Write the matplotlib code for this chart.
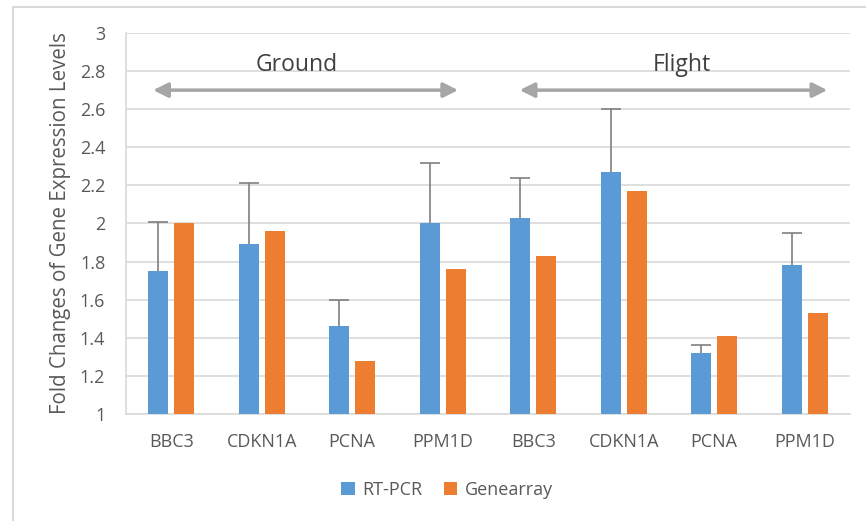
import matplotlib
matplotlib.use('Agg')
import matplotlib.pyplot as plt
import numpy as np
from matplotlib.patches import Rectangle

# data
genes = ['BBC3', 'CDKN1A', 'PCNA', 'PPM1D', 'BBC3', 'CDKN1A', 'PCNA', 'PPM1D']
rt_pcr = [1.75, 1.89, 1.46, 2.00, 2.03, 2.27, 1.32, 1.78]
genearray = [2.00, 1.96, 1.28, 1.76, 1.83, 2.17, 1.41, 1.53]
rt_pcr_err = [0.26, 0.32, 0.14, 0.32, 0.21, 0.33, 0.04, 0.17]
groups = ['Ground', 'Flight']
yticks = [1, 1.2, 1.4, 1.6, 1.8, 2, 2.2, 2.4, 2.6, 2.8, 3]
ytick_labels = ['1', '1.2', '1.4', '1.6', '1.8', '2', '2.2', '2.4', '2.6', '2.8', '3']

plt.rcParams['font.family'] = ['Open Sans', 'DejaVu Sans']
text_color = '#595959'
blue = '#5B9BD5'
orange = '#ED7D31'
grid_color = '#D9D9D9'

# create figure
fig = plt.figure(figsize=(8.66, 5.21), dpi=100)
ax = fig.add_axes([0.1455, 0.2054, 0.836, 0.7313])

# outer chart border (only left and top visible)
fig.patches.append(Rectangle((13 / 866, -0.1), 1.2, 1 - 7 / 521 + 0.1,
                             transform=fig.transFigure, fill=False,
                             edgecolor='#D9D9D9', linewidth=1.5))

x = np.arange(len(genes))
width = 0.22
offset = 0.145

ax.bar(x - offset, [v - 1 for v in rt_pcr], width, bottom=1, color=blue,
       label='RT-PCR', zorder=3)
ax.bar(x + offset, [v - 1 for v in genearray], width, bottom=1, color=orange,
       label='Genearray', zorder=3)
eb = ax.errorbar(x - offset, rt_pcr, yerr=[np.zeros(len(x)), rt_pcr_err],
                 fmt='none', ecolor='#7F7F7F', elinewidth=1.2, capsize=7.5,
                 capthick=1.2, zorder=4)
# only the upper caps are shown
for cap in eb[1]:
    if np.allclose(cap.get_ydata(), rt_pcr):
        cap.set_visible(False)

# axes styling
ax.set_xlim(-0.5, len(genes) - 0.5)
ax.set_ylim(1, 3)
ax.set_yticks(yticks)
ax.set_yticklabels(ytick_labels)
ax.set_xticks(x)
ax.set_xticklabels(genes)
ax.tick_params(axis='both', length=0, labelsize=13, colors=text_color)
ax.tick_params(axis='x', pad=14)
ax.tick_params(axis='y', pad=15)
ax.grid(axis='y', color=grid_color, linewidth=1.2, zorder=0)
for side in ['top', 'right']:
    ax.spines[side].set_visible(False)
for side in ['left', 'bottom']:
    ax.spines[side].set_color(grid_color)
    ax.spines[side].set_linewidth(1.2)
ax.set_ylabel('Fold Changes of Gene Expression Levels', fontsize=14.8,
              color=text_color, labelpad=6)

# group arrows and labels
arrow_spans = [(-0.2, 3.17), (3.85, 7.25)]
label_x = [1.39, 5.64]
for (x0, x1), name, lx in zip(arrow_spans, groups, label_x):
    ax.annotate('', xy=(x1, 2.7), xytext=(x0, 2.7),
                arrowprops=dict(arrowstyle='<|-|>', color='#A6A6A6',
                                lw=2.5, mutation_scale=22,
                                shrinkA=0, shrinkB=0), zorder=5)
    ax.text(lx, 2.8, name, ha='center', va='baseline', fontsize=16.5,
            color='#404040', zorder=5)

# legend
fig.legend(loc='center', bbox_to_anchor=(447 / 866, 1 - 490 / 521),
           ncol=2, frameon=False, fontsize=13, labelcolor=text_color,
           handlelength=0.75, handleheight=0.75, handletextpad=0.4,
           columnspacing=1.2)

plt.savefig('out.png', dpi=100)
